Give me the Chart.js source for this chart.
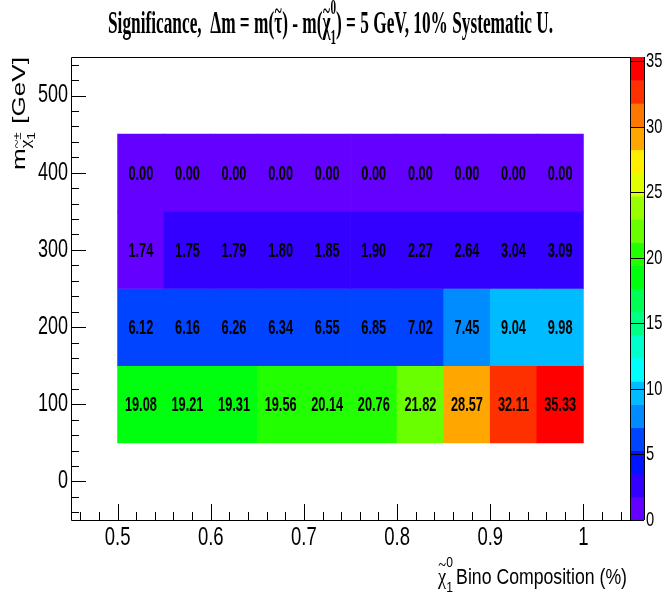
<!DOCTYPE html>
<html><head><meta charset="utf-8">
<script src="https://cdn.jsdelivr.net/npm/chart.js@4/dist/chart.umd.min.js"></script>
<style>html,body{margin:0;padding:0;background:#fff;}canvas{display:block;}</style>
</head><body>
<canvas id="c" width="663" height="593" style="width:663px;height:593px"></canvas>
<script>
// ---------- data ----------
const binoEdges = [0.50, 0.55, 0.60, 0.65, 0.70, 0.75, 0.80, 0.85, 0.90, 0.95, 1.00];
const charginoMass = [100, 200, 300, 400];
const sig100 = [19.08, 19.21, 19.31, 19.56, 20.14, 20.76, 21.82, 28.57, 32.11, 35.33];
const sig200 = [6.12, 6.16, 6.26, 6.34, 6.55, 6.85, 7.02, 7.45, 9.04, 9.98];
const sig300 = [1.74, 1.75, 1.79, 1.80, 1.85, 1.90, 2.27, 2.64, 3.04, 3.09];
const sig400 = [0.00, 0.00, 0.00, 0.00, 0.00, 0.00, 0.00, 0.00, 0.00, 0.00];
const xTickValues = [0.5, 0.6, 0.7, 0.8, 0.9, 1];
const yTickValues = [0, 100, 200, 300, 400, 500];
const zTickValues = [0, 5, 10, 15, 20, 25, 30, 35];

// ---------- style ----------
const SANS = "'Liberation Sans', Arial, Helvetica, sans-serif";
const SERIF = "'Liberation Serif', 'Times New Roman', serif";
const SQUEEZE = { x: 0.74, y: 0.72, z: 0.7 };

// linear scale whose tick labels are drawn horizontally condensed (ROOT-like narrow Helvetica)
class SqueezedLinear extends Chart.LinearScale {
  drawLabels(chartArea) {
    const optionTicks = this.options.ticks;
    if (!optionTicks.display) return;
    const ctx = this.ctx;
    const sx = SQUEEZE[this.id] || 1;
    const items = this.getLabelItems(chartArea);
    for (const item of items) {
      const o = item.options;
      ctx.save();
      ctx.translate(o.translation[0], o.translation[1]);
      if (o.rotation) ctx.rotate(o.rotation);
      ctx.scale(sx, 1);
      ctx.font = item.font.string;
      ctx.fillStyle = o.color;
      ctx.textAlign = o.textAlign;
      ctx.textBaseline = o.textBaseline;
      ctx.fillText(String(item.label), 0, item.textOffset);
      ctx.restore();
    }
  }
}
SqueezedLinear.id = 'squeezedLinear';
SqueezedLinear.defaults = Chart.LinearScale.defaults;
Chart.register(SqueezedLinear);

function hsl(h) {
  const l = 0.5, a = 0.5;
  h = ((h % 360) + 360) % 360;
  const f = n => { const k = (n + h / 30) % 12; return l - a * Math.max(-1, Math.min(k - 3, 9 - k, 1)); };
  return 'rgb(' + [f(0), f(8), f(4)].map(v => Math.round(v * 255)).join(',') + ')';
}
const pretty = [];
for (let i = 0; i < 50; i++) pretty.push(hsl(280 - (i + 1) * 5.6));
const nLevels = 20;
const levelColors = [];
for (let j = 0; j < nLevels; j++) levelColors.push(pretty[Math.floor((j + 0.99) * 50 / nLevels)]);

const rows = [sig100, sig200, sig300, sig400];
const zMax = Math.max(...rows.flat());
function levelOf(v) { return Math.min(nLevels - 1, Math.max(0, Math.floor(0.01 + v * nLevels / zMax))); }

const cells = [];
rows.forEach((row, r) => row.forEach((v, c) => {
  cells.push({ y: charginoMass[r], x: [binoEdges[c], binoEdges[c + 1]], v: v });
}));

// ---------- rich text helper ----------
function pieceWidth(ctx, p) {
  if (p.stack) return Math.max(...p.stack.map(s => { ctx.font = s.f; return ctx.measureText(s.t).width; })) + (p.gap || 0);
  ctx.font = p.f; return ctx.measureText(p.t).width + (p.gap || 0);
}
function richWidth(ctx, pieces) { let w = 0; pieces.forEach(p => { p._w = pieceWidth(ctx, p); w += p._w; }); return w; }
function drawRich(ctx, pieces) {
  let cx = 0;
  ctx.textAlign = 'left'; ctx.textBaseline = 'alphabetic';
  pieces.forEach(p => {
    if (p.stack) {
      p.stack.forEach(s => { ctx.font = s.f; ctx.fillText(s.t, cx + (s.dx || 0), s.dy); });
    } else {
      ctx.font = p.f; ctx.fillText(p.t, cx, p.dy || 0);
      if (p.tilde) {
        ctx.font = p.tilde.f;
        const tw = ctx.measureText('~').width;
        ctx.save();
        ctx.translate(cx + (p._w - (p.gap || 0)) / 2 + (p.tilde.dx || 0), p.tilde.dy);
        ctx.fillText('~', -tw / 2, 0);
        ctx.restore();
      }
    }
    cx += p._w;
  });
}
function fitRich(ctx, pieces, width) { const w = richWidth(ctx, pieces); return width / w; }

const decor = {
  id: 'decor',
  afterDatasetsDraw(chart) {
    const ctx = chart.ctx;
    const meta = chart.getDatasetMeta(0);
    ctx.save();
    ctx.fillStyle = '#000';
    ctx.textAlign = 'center';
    ctx.textBaseline = 'alphabetic';
    const fs = 20;
    ctx.font = 'bold ' + fs + 'px ' + SANS;
    const sx = 32 / ctx.measureText('19.08').width;
    meta.data.forEach((el, i) => {
      const cx = (el.x + el.base) / 2, cy = el.y;
      ctx.save(); ctx.translate(cx, cy + fs * 0.36); ctx.scale(sx, 1);
      ctx.fillText(cells[i].v.toFixed(2), 0, 0);
      ctx.restore();
    });
    ctx.restore();
  },
  afterDraw(chart) {
    const ctx = chart.ctx, a = chart.chartArea;
    const xs = chart.scales.x, ys = chart.scales.y, zs = chart.scales.z;
    ctx.save();
    // colour bar
    const barL = a.right, barW = 14;
    for (let j = 0; j < nLevels; j++) {
      const y0 = zs.getPixelForValue(j * zMax / nLevels), y1 = zs.getPixelForValue((j + 1) * zMax / nLevels);
      ctx.fillStyle = levelColors[j];
      ctx.fillRect(barL, y1, barW, y0 - y1 + 0.5);
    }
    ctx.strokeStyle = '#000'; ctx.lineWidth = 1;
    ctx.beginPath();
    zTickValues.forEach(v => { const y = Math.round(zs.getPixelForValue(v)) + 0.5; ctx.moveTo(barL, y); ctx.lineTo(barL + barW, y); });
    ctx.moveTo(barL + barW + 0.5, a.top); ctx.lineTo(barL + barW + 0.5, a.bottom);
    ctx.stroke();
    // frame
    ctx.beginPath();
    ctx.rect(Math.round(a.left) + 0.5, Math.round(a.top) + 0.5, Math.round(a.right - a.left), Math.round(a.bottom - a.top));
    ctx.stroke();
    // ticks
    ctx.beginPath();
    for (let k = -2; k <= 27; k++) {
      const v = k * 20, y = Math.round(ys.getPixelForValue(v)) + 0.5;
      const len = (k % 5 === 0) ? 15 : 8;
      ctx.moveTo(a.left, y); ctx.lineTo(a.left + len, y);
    }
    for (let k = 23; k <= 52; k++) {
      const v = k * 0.02, x = Math.round(xs.getPixelForValue(v)) + 0.5;
      const len = (k % 5 === 0) ? 16 : 8;
      ctx.moveTo(x, a.bottom); ctx.lineTo(x, a.bottom - len);
    }
    ctx.stroke();
    ctx.fillStyle = '#000';
    // main title
    const TF = 'bold 31px ' + SERIF, TS = 'bold 20px ' + SERIF, TT = 'bold 24px ' + SERIF;
    const title = [
      { t: 'Significance,  \u0394m = m(', f: TF },
      { t: '\u03C4', f: TF, tilde: { f: TT, dy: -15 } },
      { t: ') - m(', f: TF },
      { t: '\u03C7', f: TF, tilde: { f: TT, dy: -15 } },
      { stack: [{ t: '0', f: TS, dy: -19 }, { t: '1', f: TS, dy: 11 }] },
      { t: ') = 5 GeV, 10% Systematic U.', f: TF }
    ];
    let s = fitRich(ctx, title, 445);
    ctx.save(); ctx.translate(108, 33); ctx.scale(s, 1); drawRich(ctx, title); ctx.restore();
    // x axis title
    const XF = '22px ' + SANS, XG = '23px ' + SERIF, XS = '15px ' + SANS;
    const xt = [
      { t: '\u03C7', f: XG, tilde: { f: '18px ' + SERIF, dy: -13 } },
      { stack: [{ t: '0', f: XS, dy: -17 }, { t: '1', f: XS, dy: 8 }], gap: 4 },
      { t: 'Bino Composition (%)', f: XF }
    ];
    s = fitRich(ctx, xt, 189);
    ctx.save(); ctx.translate(438, 584); ctx.scale(s, 1); drawRich(ctx, xt); ctx.restore();
    // y axis title (rotated)
    const YF = '19px ' + SANS, YG = '14px ' + SERIF, YS = '10px ' + SANS;
    const yt = [
      { t: 'm', f: YF },
      { t: '\u03C7', f: YG, dy: 5, tilde: { f: '12px ' + SERIF, dy: -4 } },
      { stack: [{ t: '\u00B1', f: YS, dy: -4 }, { t: '1', f: YS, dy: 10 }], gap: 6 },
      { t: '[GeV]', f: YF }
    ];
    s = fitRich(ctx, yt, 113);
    const ytw = richWidth(ctx, yt);
    ctx.save(); ctx.translate(25, 57); ctx.rotate(-Math.PI / 2); ctx.translate(-ytw * s, 0); ctx.scale(s, 1); drawRich(ctx, yt); ctx.restore();
    ctx.restore();
  }
};

const tickFont = { family: SANS, size: 25 };
new Chart(document.getElementById('c'), {
  type: 'bar',
  data: {
    datasets: [{
      data: cells,
      backgroundColor: c => c.raw ? levelColors[levelOf(c.raw.v)] : '#fff',
      borderWidth: 0,
      barPercentage: 1,
      categoryPercentage: 1
    }]
  },
  options: {
    indexAxis: 'y',
    responsive: false,
    animation: false,
    layout: { padding: { top: 57, left: 0, right: 0, bottom: 0 } },
    plugins: { legend: { display: false }, tooltip: { enabled: false }, title: { display: false } },
    scales: {
      x: {
        type: 'squeezedLinear', position: 'bottom', min: 0.45, max: 1.05, beginAtZero: false, offset: false,
        afterBuildTicks: sc => { sc.ticks = xTickValues.map(v => ({ value: v })); },
        afterFit: sc => { sc.height = 73; },
        grid: { display: false, drawTicks: false, offset: false }, border: { display: false },
        ticks: { font: tickFont, color: '#000', padding: 3, maxRotation: 0, autoSkip: false, callback: v => String(v) }
      },
      y: {
        type: 'squeezedLinear', position: 'left', min: -50, max: 550, offset: false, beginAtZero: false,
        afterBuildTicks: sc => { sc.ticks = yTickValues.map(v => ({ value: v })); },
        afterFit: sc => { sc.width = 71; },
        grid: { display: false, drawTicks: false, offset: false }, border: { display: false },
        ticks: { font: tickFont, color: '#000', padding: 3, autoSkip: false, callback: v => String(v) }
      },
      z: {
        type: 'squeezedLinear', position: 'right', min: 0, max: zMax, offset: false, beginAtZero: false,
        afterBuildTicks: sc => { sc.ticks = zTickValues.map(v => ({ value: v })); },
        afterFit: sc => { sc.width = 33; },
        grid: { display: false, drawTicks: false, offset: false }, border: { display: false },
        ticks: { font: { family: SANS, size: 21 }, color: '#000', padding: 16, autoSkip: false, callback: v => String(v) }
      }
    }
  },
  plugins: [decor]
});
</script>
</body></html>
